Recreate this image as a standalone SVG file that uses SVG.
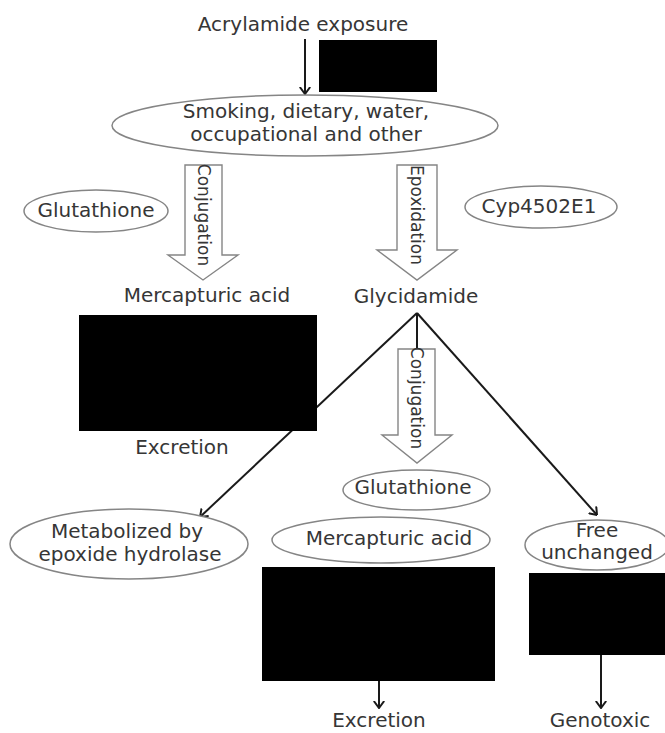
<svg xmlns="http://www.w3.org/2000/svg" width="665" height="733" viewBox="0 0 665 733">
<style>
text{font-family:"DejaVu Sans","Liberation Sans",sans-serif;font-size:20px;fill:#363636;text-anchor:middle}
.rot{font-size:17px}
.ell{fill:#fff;stroke:#858585;stroke-width:1.5}
.blk{fill:#fff;stroke:#858585;stroke-width:1.4}
.box{fill:#000}
.ln{fill:none;stroke:#1a1a1a;stroke-width:2;marker-end:url(#ah)}
.pl{fill:none;stroke:#1a1a1a;stroke-width:2}
</style>
<defs>
<marker id="ah" viewBox="0 0 8 12" refX="7.5" refY="6" markerWidth="8" markerHeight="12" orient="auto" markerUnits="userSpaceOnUse">
<path d="M0.5,0.8 L7.5,6 L0.5,11.2" fill="none" stroke="#1a1a1a" stroke-width="2"/>
</marker>
</defs>
<g id="connectors">
<line class="ln" x1="305" y1="39" x2="305" y2="94"/>
<line class="pl" x1="417" y1="313" x2="417" y2="349"/>
<line class="ln" x1="417" y1="313" x2="200" y2="517"/>
<line class="ln" x1="417" y1="313" x2="597" y2="515"/>
<line class="ln" x1="379" y1="681" x2="379" y2="708"/>
<line class="ln" x1="601" y1="655" x2="601" y2="708"/>
</g>
<g id="exposure"><text x="303" y="31">Acrylamide exposure</text></g>
<g id="box-top"><rect class="box" x="319" y="40" width="118" height="52"/></g>
<g id="sources">
<ellipse class="ell" cx="305" cy="125.5" rx="193" ry="30.5"/>
<text x="306" y="118">Smoking, dietary, water,</text>
<text x="306" y="141">occupational and other</text>
</g>
<g id="glutathione1">
<ellipse class="ell" cx="96" cy="211" rx="72" ry="21"/>
<text x="96" y="217">Glutathione</text>
</g>
<g id="conjugation1">
<polygon class="blk" points="185,165 222,165 222,255 238,255 203,280 168,255 185,255"/>
<text class="rot" transform="translate(203.5,215) rotate(90)" dy="0.35em">Conjugation</text>
</g>
<g id="epoxidation">
<polygon class="blk" points="397,165 437,165 437,250 457,250 417,280 377,250 397,250"/>
<text class="rot" transform="translate(417,215) rotate(90)" dy="0.35em">Epoxidation</text>
</g>
<g id="cyp">
<ellipse class="ell" cx="541" cy="207" rx="76" ry="21"/>
<text x="539" y="213">Cyp4502E1</text>
</g>
<g id="mercapturic1"><text x="207" y="302">Mercapturic acid</text></g>
<g id="glycidamide"><text x="416" y="303">Glycidamide</text></g>
<g id="box-left"><rect class="box" x="79" y="315" width="238" height="116"/></g>
<g id="excretion1"><text x="182" y="454">Excretion</text></g>
<g id="conjugation2">
<polygon class="blk" points="398,349 435,349 435,435 452,435 417,463 382,435 398,435"/>
<text class="rot" transform="translate(417,398) rotate(90)" dy="0.35em">Conjugation</text>
</g>
<g id="glutathione2">
<ellipse class="ell" cx="416.5" cy="490" rx="73.5" ry="20"/>
<text x="413" y="494">Glutathione</text>
</g>
<g id="metabolized">
<ellipse class="ell" cx="129" cy="544" rx="119" ry="35"/>
<text x="127" y="538">Metabolized by</text>
<text x="130" y="561">epoxide hydrolase</text>
</g>
<g id="mercapturic2">
<ellipse class="ell" cx="381" cy="540" rx="109" ry="23"/>
<text x="389" y="545">Mercapturic acid</text>
</g>
<g id="free">
<ellipse class="ell" cx="597" cy="545" rx="72" ry="25"/>
<text x="597" y="537">Free</text>
<text x="597" y="559">unchanged</text>
</g>
<g id="box-mid"><rect class="box" x="262" y="567" width="233" height="114"/></g>
<g id="box-right"><rect class="box" x="529" y="573" width="136" height="82"/></g>
<g id="excretion2"><text x="379" y="727">Excretion</text></g>
<g id="genotoxic"><text x="600" y="727">Genotoxic</text></g>
</svg>
